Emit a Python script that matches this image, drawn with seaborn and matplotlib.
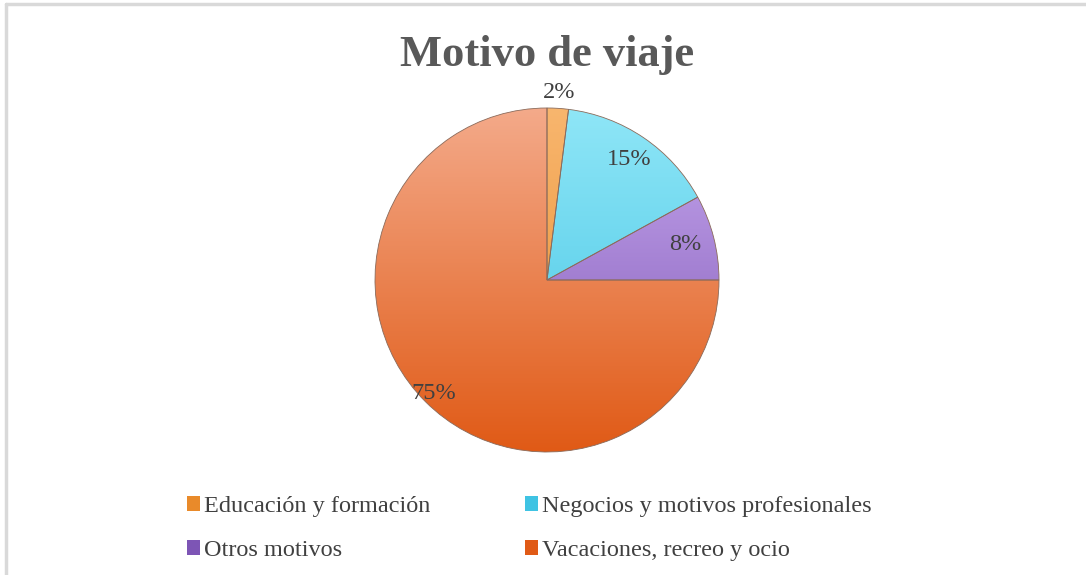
import matplotlib
matplotlib.use("Agg")
import matplotlib.pyplot as plt
import numpy as np
import seaborn as sns
from matplotlib.colors import LinearSegmentedColormap
from matplotlib.lines import Line2D

sns.set_style("white")
plt.rcParams['font.family'] = ['Liberation Serif', 'DejaVu Serif']

# data
categories = ["Educación y formación", "Negocios y motivos profesionales",
              "Otros motivos", "Vacaciones, recreo y ocio"]
shares = [2, 15, 8, 75]
pct_labels = ["2%", "15%", "8%", "75%"]

# light (top) / dark (bottom) colours per slice
light_cols = ["#F8B66E", "#8FE6F7", "#C7A8EE", "#F4AA8A"]
dark_cols = ["#E98A2A", "#3FC3E3", "#7D55B5", "#E05A16"]
label_dist = [1.09, 0.85, 0.83, 0.93]

W, H = 1086, 575
fig = plt.figure(figsize=(W / 100, H / 100), dpi=100)

cx, cy, r = 547, 280, 172
ax = fig.add_axes([(cx - r) / W, (H - cy - r) / H, 2 * r / W, 2 * r / H])

wedges, _ = ax.pie(shares, startangle=90, counterclock=False, radius=1,
                   colors=dark_cols,
                   wedgeprops=dict(edgecolor="#8a6a5a", linewidth=0.6))

# vertical gradient fill clipped to each wedge (light at top)
grad = np.linspace(0, 1, 256).reshape(-1, 1)
for w, lc, dc in zip(wedges, light_cols, dark_cols):
    cmap = LinearSegmentedColormap.from_list("g", [lc, dc])
    im = ax.imshow(grad, cmap=cmap, extent=[-1, 1, -1, 1], origin="upper",
                   aspect="auto", zorder=w.get_zorder() + 0.1)
    im.set_clip_path(w)
    w.set_facecolor("none")
    w.set_zorder(w.get_zorder() + 0.2)

for w, lab, d in zip(wedges, pct_labels, label_dist):
    ang = np.deg2rad((w.theta1 + w.theta2) / 2)
    ax.text(d * np.cos(ang), d * np.sin(ang), lab, ha="center", va="center",
            fontsize=17.5, color="#404040", zorder=10)

ax.set_xlim(-1, 1)
ax.set_ylim(-1, 1)
ax.set_aspect("equal")
ax.axis("off")

fig.text(cx / W, 1 - 55 / H, "Motivo de viaje", ha="center", va="center",
         fontsize=32, fontweight="bold", color="#595959")

# legend filled row-wise like the original
order = [0, 2, 1, 3]
handles = [plt.Rectangle((0, 0), 1, 1, facecolor=dark_cols[i], edgecolor="none") for i in order]
labels = [categories[i] for i in order]
fig.legend(handles, labels, ncol=2, loc="upper left",
           bbox_to_anchor=(165 / W, 1 - 474 / H), frameon=False,
           fontsize=17.5, handlelength=0.55, handleheight=0.55, handletextpad=0.15,
           columnspacing=3.9, labelspacing=0.95, labelcolor="#404040")

# chart frame (left and top edges visible)
fig.add_artist(Line2D([6 / W, 6 / W], [0, 1 - 4 / H], color="#D9D9D9", lw=2.5))
fig.add_artist(Line2D([6 / W, 1], [1 - 4 / H, 1 - 4 / H], color="#D9D9D9", lw=2.5))

fig.savefig("out.png", dpi=100)
